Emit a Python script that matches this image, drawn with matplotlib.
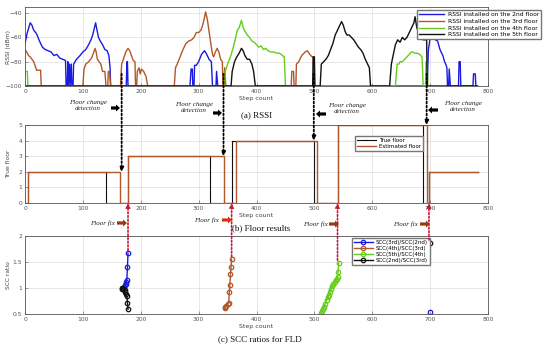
import numpy as np
import matplotlib
matplotlib.use("Agg")
import matplotlib.pyplot as plt
from matplotlib.patches import ConnectionPatch, FancyArrow

# ---------------- data ----------------
rssi_2nd_x = [0, 4, 9, 12, 15, 20, 25, 30, 35, 40, 45, 50, 55, 60, 65, 70, 71, 73, 74, 75, 77, 78, 80, 81, 83, 84,
              89, 95, 100, 105, 110, 114, 117, 120, 122, 124, 127, 130, 134, 138, 142, 145, 147, 148, 175, 176, 177,
              178, 285, 287, 289, 290, 292, 293, 296, 300, 305, 310, 313, 318, 322, 324, 330, 331, 333, 695, 697,
              699, 702, 705, 709, 713, 717, 722, 725, 727, 729, 730, 732, 733, 735, 749, 750, 752, 753, 774, 775,
              778, 779, 780]
rssi_2nd_y = [-65, -56, -48, -50, -54, -57, -63, -68, -70, -71, -72, -75, -74, -77, -78, -79, -100, -100, -80, -100,
              -82, -100, -82, -100, -100, -82, -78, -75, -72, -70, -66, -62, -58, -52, -48, -53, -60, -63, -66, -70,
              -71, -75, -85, -100, -100, -80, -80, -100, -100, -86, -86, -100, -100, -83, -83, -80, -74, -71, -73,
              -78, -80, -100, -100, -88, -100, -100, -70, -64, -46, -55, -62, -63, -70, -75, -80, -82, -85, -100,
              -100, -86, -100, -100, -80, -80, -100, -100, -90, -90, -100, -100]
rssi_3rd_x = [0, 3, 6, 9, 12, 15, 18, 20, 24, 27, 28, 100, 102, 105, 110, 115, 119, 121, 123, 125, 128, 131, 134,
              138, 140, 143, 144, 146, 148, 165, 167, 170, 174, 178, 181, 184, 187, 190, 191, 193, 194, 197, 199,
              201, 205, 209, 212, 258, 260, 263, 268, 273, 278, 283, 288, 292, 296, 300, 304, 307, 310, 312, 315,
              318, 321, 324, 326, 329, 332, 335, 338, 341, 342, 344, 345, 347, 460, 461, 464, 465, 468, 469, 473,
              478, 484, 488, 492, 496, 498, 499]
rssi_3rd_y = [-70, -72, -75, -76, -78, -80, -84, -87, -87, -87, -100, -100, -86, -82, -80, -77, -72, -69, -72, -78,
              -80, -82, -88, -88, -100, -100, -88, -88, -100, -100, -82, -78, -72, -69, -71, -75, -79, -80, -100,
              -100, -88, -85, -90, -86, -88, -92, -100, -100, -85, -82, -76, -70, -65, -63, -62, -60, -56, -56, -54,
              -50, -44, -39, -45, -55, -65, -74, -76, -72, -69, -72, -78, -80, -100, -100, -85, -100, -100, -88, -88,
              -100, -100, -82, -80, -75, -72, -71, -74, -76, -76, -100]
rssi_4th_x = [0, 4, 5, 345, 346, 350, 355, 360, 364, 367, 370, 374, 377, 380, 384, 388, 392, 396, 400, 404, 408,
              412, 416, 420, 425, 430, 435, 440, 445, 448, 450, 640, 643, 646, 648, 652, 656, 660, 664, 667, 670,
              674, 678, 682, 686, 688, 692, 693, 695, 696]
rssi_4th_y = [-88, -88, -100, -100, -88, -82, -76, -68, -60, -54, -52, -46, -52, -55, -58, -60, -63, -64, -66, -68,
              -67, -70, -69, -71, -72, -72, -73, -73, -75, -76, -100, -100, -82, -82, -80, -80, -78, -76, -74, -72,
              -72, -73, -73, -74, -76, -100, -100, -80, -80, -100]
rssi_5th_x = [0, 356, 358, 362, 366, 370, 374, 377, 380, 384, 388, 392, 395, 398, 497, 498, 500, 501, 510, 512, 516,
              520, 524, 528, 532, 536, 540, 544, 547, 550, 553, 556, 560, 564, 568, 572, 576, 580, 584, 588, 592,
              595, 597, 630, 633, 636, 640, 644, 648, 652, 656, 660, 664, 668, 672, 674, 677, 680, 684, 688, 692,
              694, 695, 782]
rssi_5th_y = [-100, -100, -88, -80, -76, -73, -69, -71, -75, -78, -78, -82, -88, -100, -100, -76, -76, -100, -100,
              -82, -80, -78, -75, -70, -65, -58, -54, -50, -47, -50, -55, -58, -58, -60, -62, -65, -68, -70, -73,
              -78, -82, -85, -100, -100, -82, -75, -66, -62, -64, -60, -62, -60, -56, -52, -48, -43, -52, -56, -60,
              -62, -62, -62, -100, -100]

true_floor_x = [0, 5, 5, 140, 140, 178, 178, 319, 319, 358, 358, 499, 499, 540, 540, 687, 687, 698, 698, 782]
true_floor_y = [0, 0, 2, 2, 0, 0, 3, 3, 0, 0, 4, 4, 0, 0, 5, 5, 0, 0, 2, 2]
est_floor_x = [5, 5, 165, 165, 178, 178, 344, 344, 364, 364, 504, 504, 540, 540, 694, 694, 698, 698, 782]
est_floor_y = [0, 2, 2, 0, 0, 3, 3, 0, 0, 4, 4, 0, 0, 5, 5, 0, 0, 2, 2]

scc_32_x = [169, 171, 173, 174, 175, 176, 177, 178]
scc_32_y = [1.00, 1.02, 1.05, 1.08, 1.12, 1.16, 1.40, 1.67]
scc_32b_x = [699]
scc_32b_y = [0.53]
scc_43_x = [345, 346, 348, 350, 352, 353, 354, 355, 356, 357]
scc_43_y = [0.61, 0.63, 0.66, 0.69, 0.72, 0.92, 1.05, 1.26, 1.40, 1.55]
scc_54_x = [512, 513, 515, 517, 519, 521, 523, 525, 527, 529, 531, 533, 535, 537, 539, 540, 541, 542]
scc_54_y = [0.51, 0.55, 0.59, 0.64, 0.70, 0.77, 0.82, 0.87, 0.93, 0.98, 1.03, 1.08, 1.12, 1.15, 1.18, 1.22, 1.30, 1.48]
scc_23_x = [167, 168, 170, 172, 173, 175, 176, 177, 178]
scc_23_y = [1.00, 0.99, 0.98, 0.96, 0.93, 0.88, 0.85, 0.72, 0.59]
scc_23b_x = [699]
scc_23b_y = [1.87]

detect_x = [167, 343, 499, 694]
detect_floor = [2, 3, 4, 5]
fix_x = [178, 357, 540, 698]
fix_scc = [1.67, 1.55, 1.48, 1.87]

rssi_labels = ["RSSI installed on the 2nd floor", "RSSI installed on the 3rd floor",
               "RSSI installed on the 4th floor", "RSSI installed on the 5th floor"]
scc_labels = ["SCC(3rd)/SCC(2nd)", "SCC(4th)/SCC(3rd)", "SCC(5th)/SCC(4th)", "SCC(2nd)/SCC(3rd)"]

# ---------------- styling ----------------
BLUE = "#1a1ae0"
BROWN = "#b0582a"
GREEN = "#66cc1a"
BLACK = "#111111"
RED = "#c8183c"
W, H = 550, 349

fig = plt.figure(figsize=(W / 100, H / 100), dpi=100)
fig.patch.set_facecolor("white")


def rect(l, t, r, b):
    return [l / W, 1 - b / H, (r - l) / W, (b - t) / H]


def P(px, py):
    return (px / W, 1 - py / H)


def style(ax, ylabel):
    ax.set_xlim(0, 800)
    ax.set_xticks(range(0, 801, 100))
    ax.grid(True, color="#dddddd", lw=0.5)
    ax.set_axisbelow(True)
    ax.tick_params(labelsize=4.3, colors="#555555", length=2, width=0.4, direction="in", pad=2)
    for s in ax.spines.values():
        s.set_color("#555555")
        s.set_linewidth(0.6)
    ax.set_ylabel(ylabel, fontsize=4.3, color="#444444")
    ax.yaxis.set_label_coords((11 - 25) / 463, 0.5)
    ax.set_xlabel("Step count", fontsize=4.5, color="#444444", labelpad=1.5)


ax1 = fig.add_axes(rect(25, 7, 488, 86))
ax2 = fig.add_axes(rect(25, 125, 488, 203))
ax3 = fig.add_axes(rect(25, 236, 488, 314))

# (a) RSSI
lw = 1.0
ax1.plot(rssi_2nd_x, rssi_2nd_y, color=BLUE, lw=lw, label=rssi_labels[0])
ax1.plot(rssi_3rd_x, rssi_3rd_y, color=BROWN, lw=lw, label=rssi_labels[1])
ax1.plot(rssi_4th_x, rssi_4th_y, color=GREEN, lw=lw, label=rssi_labels[2])
ax1.plot(rssi_5th_x, rssi_5th_y, color=BLACK, lw=lw, label=rssi_labels[3])
ax1.set_ylim(-100, -35)
ax1.set_yticks([-100, -80, -60, -40])
style(ax1, "RSSI (dBm)")
ax1.legend(loc="upper right", bbox_to_anchor=P(544, 7), bbox_transform=fig.transFigure,
           fontsize=4.3, handlelength=4.2, handletextpad=0.6, borderpad=0.35, labelspacing=0.25,
           fancybox=False, framealpha=1, edgecolor="#777777")

# (b) Floor results
ax2.plot(true_floor_x, true_floor_y, color=BLACK, lw=0.8, marker=".", markersize=0.1, label="True floor")
ax2.plot(est_floor_x, est_floor_y, color=BROWN, lw=1.0, label="Estimated floor")
ax2.set_ylim(0, 5)
ax2.set_yticks(range(0, 6))
style(ax2, "True floor")
ax2.set_yticklabels(["0", "1", "2", "3", "4", "5"])
ax2.legend(loc="upper left", bbox_to_anchor=P(352, 133), bbox_transform=fig.transFigure,
           fontsize=4.0, handlelength=3.5, handletextpad=0.5, borderpad=0.35, labelspacing=0.25,
           fancybox=False, framealpha=1, edgecolor="#777777")

# (c) SCC ratios
mk = dict(marker="o", markersize=3.2, markerfacecolor="none", markeredgewidth=0.9, lw=1.0)
ax3.plot(scc_32_x, scc_32_y, color=BLUE, label=scc_labels[0], **mk)
ax3.plot(scc_43_x, scc_43_y, color=BROWN, label=scc_labels[1], **mk)
ax3.plot(scc_54_x, scc_54_y, color=GREEN, label=scc_labels[2], **mk)
ax3.plot(scc_23_x, scc_23_y, color=BLACK, label=scc_labels[3], **mk)
ax3.plot(scc_32b_x, scc_32b_y, color=BLUE, **mk)
ax3.plot(scc_23b_x, scc_23b_y, color=BLACK, **mk)
ax3.set_ylim(0.5, 2)
ax3.set_yticks([0.5, 1, 1.5, 2])
ax3.set_yticklabels(["0.5", "1", "1.5", "2"])
style(ax3, "SCC ratio")
ax3.legend(loc="upper left", bbox_to_anchor=P(349, 235), bbox_transform=fig.transFigure,
           fontsize=4.0, handlelength=3.5, handletextpad=0.5, borderpad=0.35, labelspacing=0.2,
           fancybox=False, framealpha=1, edgecolor="#777777")

# dotted connectors: floor change detection (a -> b)
for x, fl in zip(detect_x, detect_floor):
    cp = ConnectionPatch(xyA=(x, -90), coordsA=ax1.transData, xyB=(x, fl), coordsB=ax2.transData,
                         linestyle=(0, (1, 1.2)), lw=1.3, color="black",
                         arrowstyle="-|>", mutation_scale=6, shrinkA=0, shrinkB=0)
    fig.add_artist(cp)

# dotted connectors: floor fix (c -> b)
for x, v in zip(fix_x, fix_scc):
    cp = ConnectionPatch(xyA=(x, v), coordsA=ax3.transData, xyB=(x, 0), coordsB=ax2.transData,
                         linestyle=(0, (1, 1.2)), lw=1.2, color=RED,
                         arrowstyle="-|>", mutation_scale=6, shrinkA=2, shrinkB=0)
    fig.add_artist(cp)

# text annotations
serif = ["Liberation Serif", "DejaVu Serif"]
for (cx, y1), in [((88, 105),), ((194, 107),), ((347, 108),), ((463, 106),)]:
    fig.text(*P(cx, y1), "Floor change\ndetection", ha="center", va="center", fontsize=5,
             style="italic", family=serif, color="#222222", linespacing=1.25)


def block_arrow(x0, x1, y, color):
    d = (x1 - x0) / 100
    hl = 4 / 100
    a = FancyArrow(x0 / 100, (H - y) / 100, d, 0, width=3.2 / 100, head_width=7 / 100,
                   head_length=hl, length_includes_head=True, color=color,
                   transform=fig.dpi_scale_trans, lw=0)
    fig.add_artist(a)


block_arrow(111, 120, 108, "black")
block_arrow(213, 222, 113, "black")
block_arrow(326, 316, 114, "black")
block_arrow(438, 428, 110, "black")

for tx, ty, ax0, col in [(115, 223, 117, "#9a3a12"), (219, 220, 222, "#d8301a"),
                         (328, 224, 329, "#9a3a12"), (418, 224, 420, "#9a3a12")]:
    fig.text(*P(tx, ty), "Floor fix", ha="right", va="center", fontsize=5, style="italic",
             family=serif, color="#222222")
    block_arrow(ax0, ax0 + 10, ty, col)

fig.text(*P(257, 115), "(a) RSSI", ha="center", va="center", fontsize=6.5, family=serif, color="#111111")
fig.text(*P(261, 228), "(b) Floor results", ha="center", va="center", fontsize=6.5, family=serif,
         color="#111111")
fig.text(*P(260, 339), "(c) SCC ratios for FLD", ha="center", va="center", fontsize=6.5, family=serif,
         color="#111111")

fig.savefig("out.png", dpi=100)
